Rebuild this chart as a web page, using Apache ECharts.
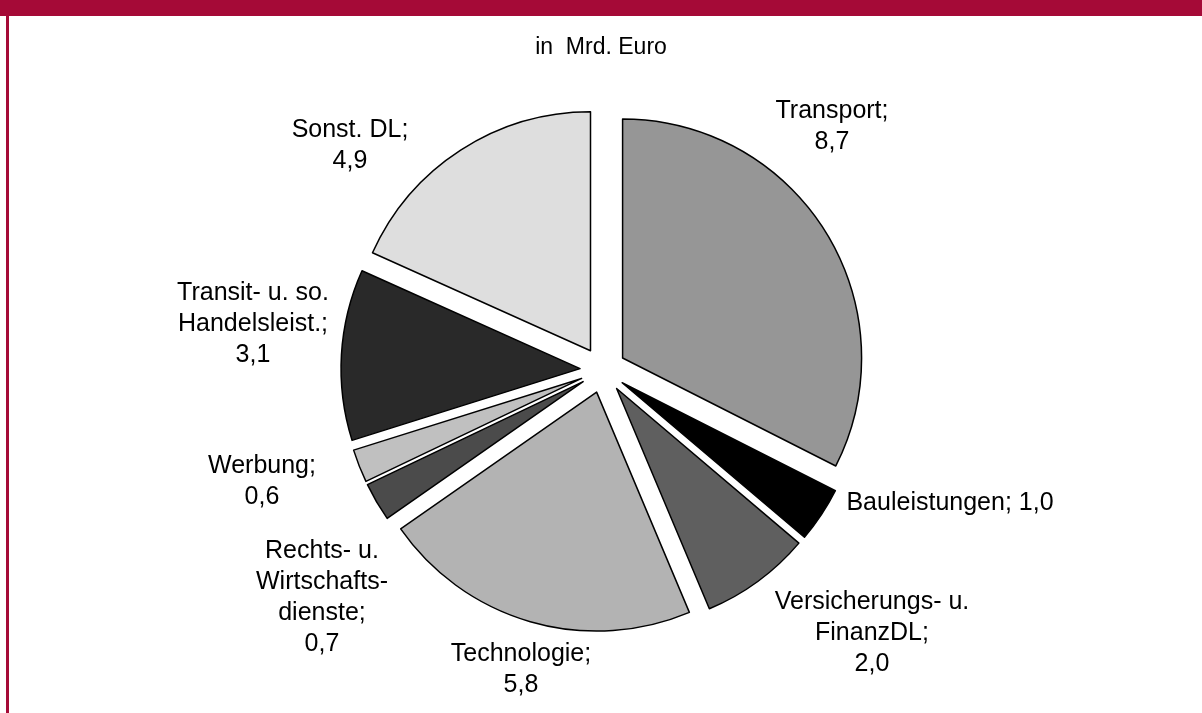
<!DOCTYPE html>
<html>
<head>
<meta charset="utf-8">
<script src="https://cdn.jsdelivr.net/npm/echarts@6/dist/echarts.min.js"></script>
<style>
  html, body { margin: 0; padding: 0; background: #fff; }
  #wrap { position: relative; width: 1202px; height: 713px; overflow: hidden; }
  #chart { position: absolute; left: 0; top: 0; width: 1202px; height: 713px; }
  #topbar { position: absolute; left: 0; top: 0; width: 1202px; height: 16px; background: #a50a37; z-index: 2; }
  #leftbar { position: absolute; left: 6px; top: 0; width: 3px; height: 713px; background: #a50a37; z-index: 2; }
</style>
</head>
<body>
<div id="wrap">
  <div id="chart"></div>
  <div id="topbar"></div>
  <div id="leftbar"></div>
</div>
<script>
// ---- data ----
const categories = [
  "Transport",
  "Bauleistungen",
  "Versicherungs- u.\nFinanzDL",
  "Technologie",
  "Rechts- u.\nWirtschafts-\ndienste",
  "Werbung",
  "Transit- u. so.\nHandelsleist.",
  "Sonst. DL"
];
const values = [8.7, 1.0, 2.0, 5.8, 0.7, 0.6, 3.1, 4.9];
const unitLabel = "in  Mrd. Euro";

// ---- styling / layout (not data) ----
const sliceColors = ["#969696", "#000000", "#5f5f5f", "#b3b3b3", "#4b4b4b", "#c0c0c0", "#292929", "#dedede"];
const valueOnSameLine = [false, true, false, false, false, false, false, false];
const labelAnchors = [
  [832, 127], [950, 503], [872, 633], [521, 670],
  [322, 598], [262, 482], [253, 324], [350, 146]
];
const FONT = 'Liberation Sans, Arial, sans-serif';

const fmt = v => v.toFixed(1).replace('.', ',');
const labelText = i => categories[i] + ';' + (valueOnSameLine[i] ? ' ' : '\n') + fmt(values[i]);

const data = categories.map((c, i) => ({
  name: c,
  value: values[i],
  selected: true,
  itemStyle: { color: sliceColors[i] }
}));

const labelGraphics = categories.map((c, i) => ({
  type: 'text',
  x: labelAnchors[i][0],
  y: labelAnchors[i][1],
  silent: true,
  style: {
    text: labelText(i),
    fontFamily: FONT,
    fontSize: 25,
    lineHeight: 31,
    fill: '#000',
    align: 'center',
    verticalAlign: 'middle'
  }
}));

const chart = echarts.init(document.getElementById('chart'), null, { renderer: 'canvas' });
chart.setOption({
  animation: false,
  backgroundColor: '#ffffff',
  title: {
    text: unitLabel,
    left: 'center',
    top: 31,
    textStyle: { fontFamily: FONT, fontSize: 23, fontWeight: 'normal', color: '#000' }
  },
  graphic: labelGraphics,
  series: [{
    type: 'pie',
    center: [603, 370],
    radius: 239,
    startAngle: 90,
    clockwise: true,
    selectedMode: 'multiple',
    selectedOffset: 23,
    avoidLabelOverlap: false,
    emphasis: { disabled: true },
    itemStyle: { borderColor: '#000', borderWidth: 1.5 },
    label: { show: false },
    labelLine: { show: false },
    data: data
  }]
});
</script>
</body>
</html>
